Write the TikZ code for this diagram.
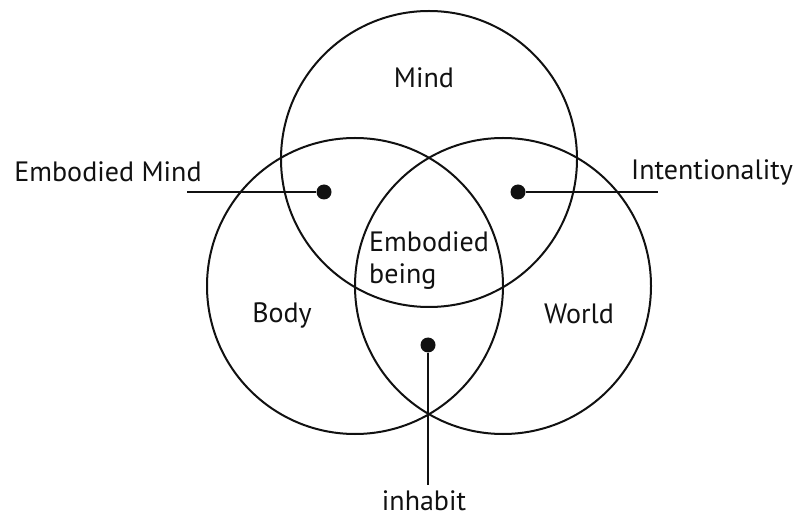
\documentclass[tikz,border=0pt]{standalone}
\usepackage{fontspec}
\setsansfont{PT Sans}
\usetikzlibrary{positioning}
\definecolor{vennline}{HTML}{111111}
\tikzset{
  venn/.style={
    draw=vennline,
    line width=2pt,
    circle,
    minimum size=296pt,
    inner sep=0pt
  },
  spot/.style={fill=vennline, circle, minimum size=15pt, inner sep=0pt},
  leader/.style={draw=vennline, line width=2pt},
  term/.style={font=\sffamily\fontsize{28}{32}\selectfont, text=vennline, inner sep=0pt, anchor=base}
}
\begin{document}
\begin{tikzpicture}[x=1pt,y=-1pt]
  \useasboundingbox (0,0) rectangle (795,518);
  \node[venn] (mind) at (429,159) {};
  \node[venn] (body) at (355,286) {};
  \node[venn] (world) at (503,286) {};

  \node[term] (mindlbl) at (424,88) {Mind};
  \node[term] (bodylbl) at (282,323) {Body};
  \node[term] (worldlbl) at (579,324) {World};
  \node[term, anchor=base west, align=left] (being) at (369,284) {Embodied\\being};

  \node[spot] (embspot) at (324,192) {};
  \node[spot] (intspot) at (518,192) {};
  \node[spot] (inhspot) at (428,345) {};
  \coordinate (embend) at (187,192);
  \coordinate (intend) at (658,192);
  \coordinate (inhend) at (428,485);

  \node[term] (emblbl) at (108,182) {Embodied Mind};
  \node[term] (intlbl) at (712,180) {Intentionality};
  \node[term] (inhlbl) at (424,510) {inhabit};

  \draw[leader] (embend) -- (embspot);
  \draw[leader] (intspot) -- (intend);
  \draw[leader] (inhspot) -- (inhend);
\end{tikzpicture}
\end{document}
